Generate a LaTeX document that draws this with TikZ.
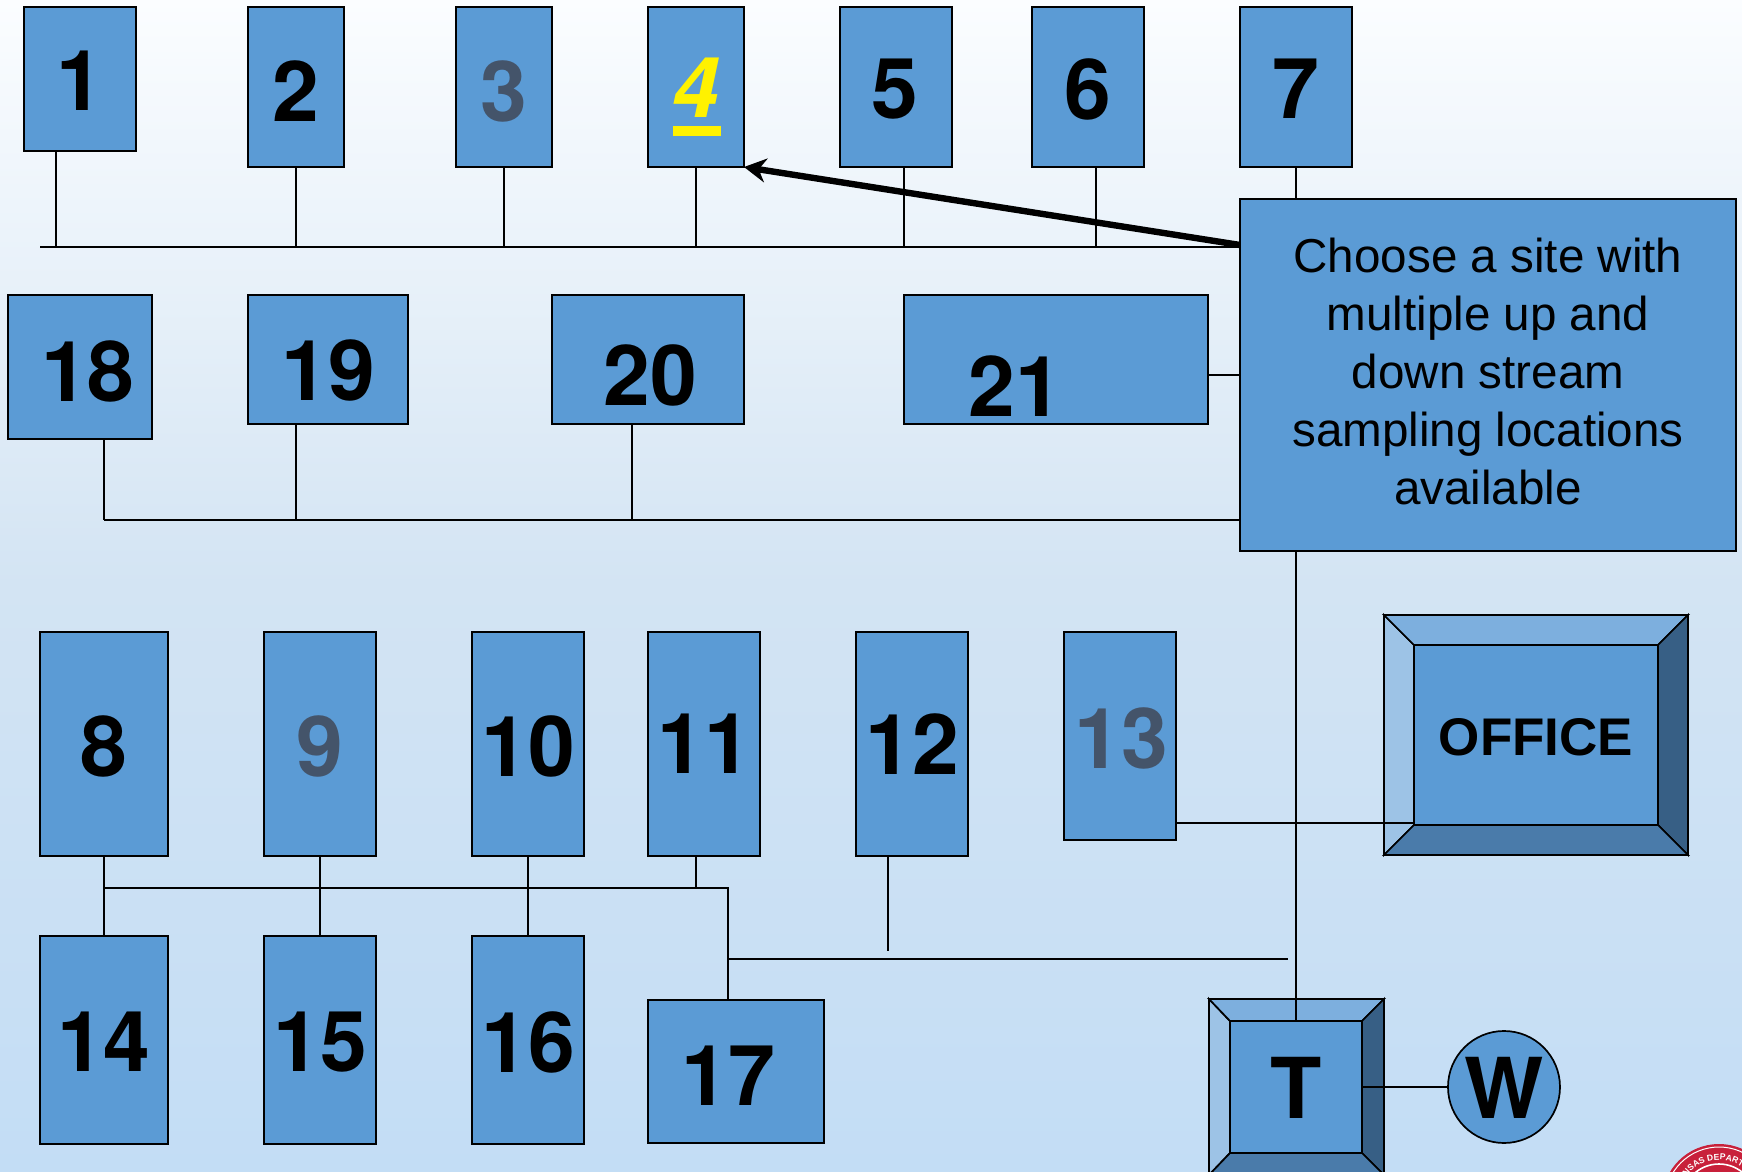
\documentclass[tikz,border=0pt]{standalone}
\usepackage{fontspec}
\setmainfont{Liberation Sans}
\newfontfamily\numface{TeX Gyre Heros}
\usetikzlibrary{arrows.meta,decorations.text}
\definecolor{boxblue}{HTML}{5B9BD5}
\definecolor{slategrey}{HTML}{44546A}
\definecolor{sealred}{HTML}{C8203A}
\newcommand{\numfont}{\numface\fontsize{42}{48}\selectfont\bfseries}
\newcommand{\bevelbox}[8]{
    \draw[wire,fill=bevelleft] (#1,#2)--(#5,#6)--(#5,#8)--(#1,#4)--cycle;
    \draw[wire,fill=beveltop] (#1,#2)--(#3,#2)--(#7,#6)--(#5,#6)--cycle;
    \draw[wire,fill=bevelright] (#3,#2)--(#3,#4)--(#7,#8)--(#7,#6)--cycle;
    \draw[wire,fill=bevelbottom] (#1,#4)--(#3,#4)--(#7,#8)--(#5,#8)--cycle;
}
\definecolor{bevelleft}{HTML}{9DC3E6}
\definecolor{beveltop}{HTML}{7DAFDE}
\definecolor{bevelright}{HTML}{375F85}
\definecolor{bevelbottom}{HTML}{4A7BAA}
\tikzset{
    wire/.style={line width=0.85pt},
    box/.style 2 args={draw,wire,fill=boxblue,anchor=north west,inner sep=0,outer sep=0,
        minimum width=#1*0.5pt,minimum height=#2*0.5pt},
    num/.style={inner sep=0,font=\numfont},
    faded/.style={num,text=slategrey}
}
\begin{document}
\begin{tikzpicture}[x=0.5pt,y=-0.5pt]
    \useasboundingbox (0,0) rectangle (1742,1172);
    \clip (0,0) rectangle (1742,1172);
    \fill[top color={rgb,255:red,251;green,253;blue,255},bottom color={rgb,255:red,211;green,228;blue,243}] (0,0) rectangle (1742,586);
    \fill[top color={rgb,255:red,211;green,228;blue,243},bottom color={rgb,255:red,195;green,221;blue,245}] (0,586) rectangle (1742,1172);
    %top row
    \node[box={112}{144}] (n1) at (24,7) {};
    \node[box={96}{160}] (n2) at (248,7) {};
    \node[box={96}{160}] (n3) at (456,7) {};
    \node[box={96}{160}] (n4) at (648,7) {};
    \node[box={112}{160}] (n5) at (840,7) {};
    \node[box={112}{160}] (n6) at (1032,7) {};
    \node[box={112}{160}] (n7) at (1240,7) {};
    \node[num] (t1) at (80,81) {1};
    \node[num] (t2) at (296,91) {2};
    \node[faded] (t3) at (504,91) {3};
    \node[num,text=yellow] (t4) at (696,97) {\rlap{\rule[-9.5pt]{24pt}{5pt}}\textit{4}};
    \node[num] (t5) at (895,89) {5};
    \node[num] (t6) at (1088,89) {6};
    \node[num] (t7) at (1296,89) {7};
    %second row
    \node[box={144}{144}] (n18) at (8,295) {};
    \node[box={160}{129}] (n19) at (248,295) {};
    \node[box={192}{129}] (n20) at (552,295) {};
    \node[box={304}{129}] (n21) at (904,295) {};
    \node[num] (t18) at (88,371) {18};
    \node[num] (t19) at (328,370) {19};
    \node[num] (t20) at (650,375) {20};
    \node[num] (t21) at (1015,386) {21};
    %third row
    \node[box={128}{224}] (n8) at (40,632) {};
    \node[box={112}{224}] (n9) at (264,632) {};
    \node[box={112}{224}] (n10) at (472,632) {};
    \node[box={112}{224}] (n11) at (648,632) {};
    \node[box={112}{224}] (n12) at (856,632) {};
    \node[box={112}{208}] (n13) at (1064,632) {};
    \node[num] (t8) at (104,746) {8};
    \node[faded] (t9) at (320,746) {9};
    \node[num] (t10) at (528,746) {10};
    \node[num] (t11) at (704,744) {11};
    \node[num] (t12) at (912,744) {12};
    \node[faded] (t13) at (1121,738) {13};
    %bottom row
    \node[box={128}{208}] (n14) at (40,936) {};
    \node[box={112}{208}] (n15) at (264,936) {};
    \node[box={112}{208}] (n16) at (472,936) {};
    \node[box={176}{143}] (n17) at (648,1000) {};
    \node[num] (t14) at (104,1042) {14};
    \node[num] (t15) at (320,1042) {15};
    \node[num] (t16) at (528,1042) {16};
    \node[num] (t17) at (728,1076) {17};
    %office and T
    \bevelbox{1384}{615}{1688}{855}{1414}{645}{1658}{825}
    \node[box={244}{180},font=\fontsize{26.5}{30}\selectfont\bfseries,text height=21pt] (office) at (1414,645) {OFFICE};
    \bevelbox{1209}{999}{1384}{1175}{1230}{1021}{1362}{1153}
    \node[box={132}{132},font=\numfont,text height=31.5pt] (tank) at (1230,1021) {T};
    \node[draw,wire,circle,fill=boxblue,inner sep=0,minimum size=56pt,font=\numfont,text height=31.5pt] (well) at (1504,1087) {W};
    %buses
    \coordinate (busa) at (40,247);
    \coordinate (busaend) at (1240,247);
    \coordinate (busb) at (104,520);
    \coordinate (busbend) at (1240,520);
    \coordinate (busc) at (104,888);
    \coordinate (buscend) at (728,888);
    \coordinate (busd) at (728,959);
    \coordinate (busdend) at (1288,959);
    \coordinate (tapone) at (56,151);
    \coordinate (twelve) at (888,951);
    \coordinate (officetap) at (1176,823);
    \coordinate (arrowtail) at (1240,245);
    \draw[wire] (busa)--(busaend);
    \draw[wire] (busb)--(busbend);
    \draw[wire] (busc)--(buscend)--(n17.north -| buscend);
    \draw[wire] (busd)--(busdend);
    \draw[wire] (tapone)--(tapone |- busa);
    \draw[wire] (n2.south)--(n2.south |- busa);
    \draw[wire] (n3.south)--(n3.south |- busa);
    \draw[wire] (n4.south)--(n4.south |- busa);
    \draw[wire] ([xshift=4pt]n5.south)--([xshift=4pt]n5.south |- busa);
    \draw[wire] ([xshift=4pt]n6.south)--([xshift=4pt]n6.south |- busa);
    \draw[wire] (n18.south -| busb)--(busb);
    \draw[wire] (n19.south -| n2.south)--(n2.south |- busb);
    \draw[wire] ([xshift=-8pt]n20.south)--([xshift=-8pt]n20.south |- busb);
    \draw[wire] (n8.south)--(n14.north);
    \draw[wire] (n9.south)--(n15.north);
    \draw[wire] (n10.south)--(n16.north);
    \draw[wire] ([xshift=-4pt]n11.south)--([xshift=-4pt]n11.south |- busc);
    \draw[wire] ([xshift=-12pt]n12.south)--(twelve);
    \draw[wire] (officetap)--(officetap -| office.west);
    \draw[wire] (tank.east)--(well.west);
    \draw[line width=3.2pt,-{Stealth[length=11pt,width=12pt]}] (arrowtail)--(n4.south east);
    %callout
    \node[draw,wire,fill=boxblue,inner sep=0,outer sep=0,minimum width=248pt,minimum height=176pt] (site) at (1488,375) {};
    \node[inner sep=0,align=center,font=\fontsize{23.8}{29}\selectfont] (sitetext) at (1488,371) {Choose a site with\\multiple up and\\down stream\\sampling locations\\available};
    \draw[wire] (n7.south)--(site.north -| n7.south);
    \draw[wire] (site.south -| n7.south)--(tank.north -| n7.south);
    \draw[wire] (n21.east |- 0,375)--(site.west);
    %seal
    \fill[sealred] (1719,1201) circle (57);
    \draw[white,line width=0.5pt] (1719,1201) circle (54);
    \draw[white,line width=0.8pt] (1719,1201) circle (37);
    \path[decorate,decoration={text along path,text color=white,text={|\fontsize{4.3}{5}\selectfont\bfseries|KANSAS DEPARTMENT}}]
        (1719,1201) ++(-160:41) arc (-160:-20:41);
\end{tikzpicture}
\end{document}
